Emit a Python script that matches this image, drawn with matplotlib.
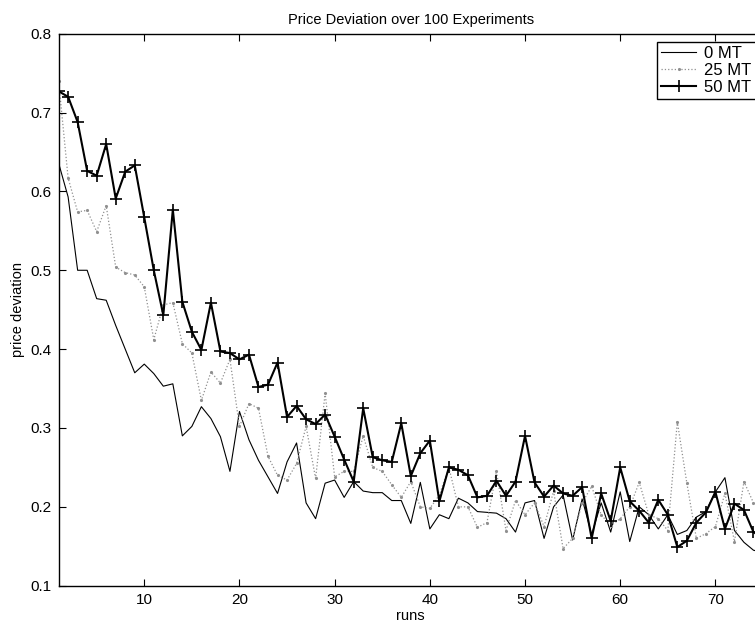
import matplotlib
matplotlib.use("Agg")
import matplotlib.pyplot as plt
import numpy as np

plt.rcParams['font.family'] = ['Liberation Sans', 'DejaVu Sans']

runs = list(range(1, 76))

mt0 = [0.636, 0.593, 0.500, 0.500, 0.464, 0.462, 0.430, 0.400, 0.370, 0.381,
       0.369, 0.353, 0.356, 0.290, 0.302, 0.327, 0.312, 0.289, 0.245, 0.321,
       0.285, 0.259, 0.238, 0.217, 0.257, 0.281, 0.205, 0.185, 0.230, 0.234,
       0.212, 0.232, 0.220, 0.218, 0.218, 0.208, 0.208, 0.179, 0.231, 0.172,
       0.190, 0.185, 0.211, 0.205, 0.194, 0.193, 0.192, 0.185, 0.168, 0.205,
       0.208, 0.160, 0.200, 0.215, 0.158, 0.210, 0.165, 0.205, 0.168, 0.219,
       0.156, 0.200, 0.190, 0.172, 0.190, 0.165, 0.170, 0.187, 0.194, 0.219,
       0.237, 0.170, 0.155, 0.145, 0.142]

mt25 = [0.740, 0.617, 0.574, 0.576, 0.549, 0.582, 0.504, 0.497, 0.494, 0.479,
        0.412, 0.456, 0.459, 0.407, 0.395, 0.335, 0.371, 0.357, 0.387, 0.302,
        0.331, 0.325, 0.264, 0.240, 0.234, 0.255, 0.302, 0.236, 0.344, 0.238,
        0.245, 0.245, 0.290, 0.250, 0.245, 0.228, 0.212, 0.232, 0.200, 0.198,
        0.215, 0.250, 0.200, 0.200, 0.174, 0.180, 0.245, 0.170, 0.208, 0.190,
        0.205, 0.175, 0.220, 0.147, 0.160, 0.205, 0.226, 0.190, 0.176, 0.185,
        0.200, 0.231, 0.190, 0.185, 0.170, 0.308, 0.230, 0.160, 0.166, 0.175,
        0.217, 0.156, 0.232, 0.205, 0.200]

mt50 = [0.727, 0.720, 0.688, 0.626, 0.620, 0.660, 0.591, 0.625, 0.633, 0.567,
        0.500, 0.443, 0.577, 0.460, 0.422, 0.399, 0.459, 0.397, 0.395, 0.387,
        0.393, 0.352, 0.355, 0.383, 0.314, 0.328, 0.311, 0.305, 0.317, 0.289,
        0.260, 0.232, 0.325, 0.263, 0.259, 0.257, 0.306, 0.239, 0.268, 0.284,
        0.207, 0.250, 0.247, 0.240, 0.212, 0.214, 0.233, 0.214, 0.232, 0.290,
        0.231, 0.213, 0.227, 0.217, 0.214, 0.225, 0.160, 0.217, 0.182, 0.250,
        0.207, 0.195, 0.180, 0.209, 0.190, 0.149, 0.157, 0.180, 0.193, 0.219,
        0.172, 0.204, 0.196, 0.168, 0.160]

labels = ['0 MT', '25 MT', '50 MT']
yticks = [0.1, 0.2, 0.3, 0.4, 0.5, 0.6, 0.7, 0.8]
xticks = [10, 20, 30, 40, 50, 60, 70]

W, H = 755, 629
fig = plt.figure(figsize=(W / 100, H / 100), dpi=100)
left, right = 58.6, 763.0
top, bottom = 33.7, 585.7
ax = fig.add_axes([left / W, 1 - bottom / H, (right - left) / W, (bottom - top) / H])

ax.plot(runs, mt0, color='black', lw=0.8, label=labels[0])
ax.plot(runs, mt25, color='#909090', lw=0.9, ls=':', marker='.', markersize=2.5,
        label=labels[1])
ax.plot(runs, mt50, color='black', lw=1.5, marker='+', markersize=8.5,
        markeredgewidth=1.2, label=labels[2])

ax.set_xlim(1, 75)
ax.set_ylim(0.1, 0.8)
ax.set_xticks(xticks)
ax.set_yticks(yticks)
ax.set_yticklabels([f'{v:.1f}' for v in yticks])
ax.tick_params(direction='in', length=5, width=0.8, top=True, right=True,
               labelsize=11, pad=5)
for s in ax.spines.values():
    s.set_linewidth(1.0)

ax.set_title('Price Deviation over 100 Experiments', fontsize=10.5, pad=7)
ax.set_xlabel('runs', fontsize=10.5, labelpad=2)
ax.set_ylabel('price deviation', fontsize=10.5, labelpad=4)

leg = fig.legend(loc='upper left', bbox_to_anchor=(657 / W, 1 - 42 / H),
                 fontsize=12, frameon=True, fancybox=False, framealpha=1,
                 edgecolor='black', borderpad=0.25, labelspacing=0.12,
                 handlelength=2.1, handletextpad=0.5, borderaxespad=0)
leg.get_frame().set_linewidth(1.0)

fig.savefig('out.png', dpi=100)
